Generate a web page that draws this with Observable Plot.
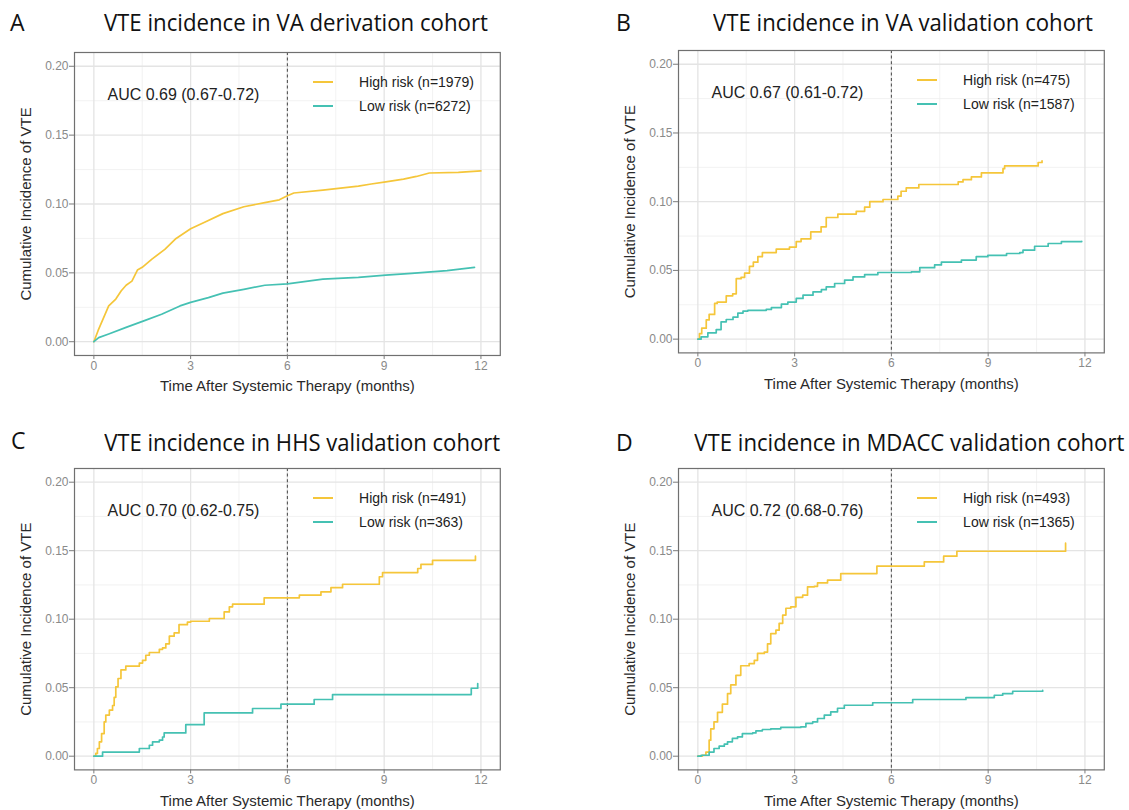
<!DOCTYPE html>
<html>
<head>
<meta charset="utf-8">
<script src="https://cdn.jsdelivr.net/npm/d3@7"></script>
<script src="https://cdn.jsdelivr.net/npm/@observablehq/plot@0.6"></script>
<style>
  html, body { margin: 0; padding: 0; background: #fff; }
  body { width: 1129px; height: 810px; position: relative; overflow: hidden; font-family: "Liberation Sans", Arial, sans-serif; }
  .panel { position: absolute; }
  .panel svg { display: block; overflow: visible; }
  .title, .letter { position: absolute; font-family: "Open Sans", "Noto Sans", sans-serif; font-size: 23px; color: #111; white-space: nowrap; line-height: 1; }
  .legend-row { position: absolute; display: flex; align-items: center; font-size: 14px; color: #222; white-space: nowrap; line-height: 1; }
  .swatch { position: absolute; height: 0; border-top: 2px solid; }
</style>
</head>
<body>
<script>
// ---------- data ----------
const panelLetters = ["A", "B", "C", "D"];
const panelTitles = [
  "VTE incidence in VA derivation cohort",
  "VTE incidence in VA validation cohort",
  "VTE incidence in HHS validation cohort",
  "VTE incidence in MDACC validation cohort"
];
const aucLabels = ["AUC 0.69 (0.67-0.72)", "AUC 0.67 (0.61-0.72)", "AUC 0.70 (0.62-0.75)", "AUC 0.72 (0.68-0.76)"];
const highLabels = ["High risk (n=1979)", "High risk (n=475)", "High risk (n=491)", "High risk (n=493)"];
const lowLabels = ["Low risk (n=6272)", "Low risk (n=1587)", "Low risk (n=363)", "Low risk (n=1365)"];
const seriesNames = ["High", "Low"];
const xTicks = [0, 3, 6, 9, 12];
const xMinor = [1.5, 4.5, 7.5, 10.5];
const yTicks = [0, 0.05, 0.10, 0.15, 0.20];
const yMinor = [0.025, 0.075, 0.125, 0.175];
const refMonth = [6];
const xLabel = "Time After Systemic Therapy (months)";
const yLabel = "Cumulative Incidence of VTE";

// Panel A (VA derivation)
const aHighT = [0, 0.13, 0.35, 0.46, 0.68, 0.85, 1.0, 1.18, 1.35, 1.5, 1.8, 2.2, 2.55, 3.0, 3.45, 4.0, 4.65, 5.3, 5.75, 6.0, 6.2, 7.1, 8.2, 8.6, 9.05, 9.6, 10.0, 10.4, 11.3, 12.0];
const aHighV = [0, 0.008, 0.020, 0.026, 0.031, 0.037, 0.041, 0.044, 0.052, 0.054, 0.060, 0.067, 0.075, 0.082, 0.087, 0.093, 0.098, 0.101, 0.103, 0.106, 0.108, 0.110, 0.113, 0.1145, 0.116, 0.118, 0.120, 0.1225, 0.123, 0.124];
const aLowT = [0, 0.15, 0.46, 1.0, 1.57, 2.1, 2.67, 3.0, 3.55, 4.0, 4.65, 5.3, 6.0, 7.1, 8.2, 9.05, 9.85, 10.95, 11.8];
const aLowV = [0, 0.003, 0.0056, 0.0104, 0.0153, 0.020, 0.026, 0.0286, 0.032, 0.0353, 0.038, 0.041, 0.042, 0.0455, 0.0467, 0.0484, 0.0496, 0.0516, 0.054];

// Panel B (VA validation)
const bHighT = [0, 0.05, 0.12, 0.26, 0.35, 0.52, 0.6, 0.88, 1.08, 1.19, 1.34, 1.45, 1.6, 1.72, 1.86, 2.0, 2.43, 2.84, 3.05, 3.2, 3.5, 3.82, 3.98, 4.34, 4.91, 5.17, 5.33, 5.74, 6.2, 6.3, 6.46, 6.85, 8.07, 8.22, 8.48, 8.79, 9.46, 9.51, 10.55, 10.67];
const bHighV = [0, 0.004, 0.008, 0.014, 0.018, 0.026, 0.027, 0.0315, 0.033, 0.044, 0.045, 0.048, 0.053, 0.056, 0.060, 0.063, 0.0655, 0.067, 0.071, 0.073, 0.078, 0.0817, 0.0885, 0.091, 0.093, 0.096, 0.100, 0.1016, 0.104, 0.1076, 0.110, 0.1125, 0.1144, 0.116, 0.118, 0.121, 0.124, 0.126, 0.1285, 0.1297];
const bLowT = [0, 0.1, 0.31, 0.57, 0.72, 0.88, 1.09, 1.24, 1.4, 1.55, 2.12, 2.28, 2.59, 2.79, 3.05, 3.26, 3.57, 3.83, 3.98, 4.24, 4.55, 4.81, 5.17, 5.58, 6.62, 6.88, 7.34, 7.55, 8.17, 8.63, 8.99, 9.57, 9.98, 10.08, 10.44, 10.86, 11.27, 11.9];
const bLowV = [0, 0.0017, 0.0046, 0.007, 0.0126, 0.0143, 0.016, 0.019, 0.0204, 0.021, 0.0216, 0.023, 0.0255, 0.027, 0.0296, 0.032, 0.0344, 0.036, 0.038, 0.0405, 0.043, 0.0453, 0.047, 0.0485, 0.049, 0.052, 0.054, 0.056, 0.0575, 0.060, 0.061, 0.0623, 0.063, 0.0647, 0.0676, 0.0696, 0.071, 0.0712];

// Panel C (HHS validation)
const cHighT = [0, 0.06, 0.11, 0.17, 0.24, 0.32, 0.37, 0.48, 0.58, 0.63, 0.68, 0.75, 0.84, 0.99, 1.41, 1.51, 1.61, 1.72, 2.03, 2.13, 2.23, 2.34, 2.49, 2.64, 2.9, 3.0, 3.58, 4.04, 4.2, 4.3, 5.28, 6.37, 7.04, 7.35, 7.71, 8.85, 8.95, 10.04, 10.14, 10.5, 11.8, 11.83];
const cHighV = [0, 0.002, 0.0056, 0.0105, 0.0165, 0.025, 0.030, 0.0336, 0.037, 0.043, 0.0506, 0.0567, 0.063, 0.0657, 0.068, 0.070, 0.0737, 0.0757, 0.078, 0.079, 0.082, 0.0876, 0.090, 0.096, 0.0978, 0.0985, 0.1005, 0.1053, 0.109, 0.111, 0.1156, 0.1175, 0.120, 0.123, 0.1255, 0.131, 0.134, 0.137, 0.140, 0.143, 0.143, 0.146];
const cLowT = [0, 0.27, 1.41, 1.72, 1.82, 2.03, 2.13, 2.18, 2.85, 3.42, 4.92, 5.8, 6.83, 7.4, 11.7, 11.9];
const cLowV = [0, 0.003, 0.0056, 0.008, 0.0105, 0.0117, 0.014, 0.017, 0.023, 0.0316, 0.0348, 0.038, 0.0414, 0.045, 0.0496, 0.053];

// Panel D (MDACC validation)
const dHighT = [0, 0.14, 0.25, 0.35, 0.4, 0.5, 0.61, 0.76, 0.92, 1.02, 1.18, 1.33, 1.59, 1.75, 1.85, 2.06, 2.16, 2.26, 2.42, 2.52, 2.63, 2.73, 2.88, 3.04, 3.25, 3.4, 3.61, 3.71, 4.02, 4.43, 5.55, 7.02, 7.62, 8.03, 11.38, 11.4];
const dHighV = [0, 0.0007, 0.003, 0.0117, 0.020, 0.025, 0.032, 0.038, 0.0457, 0.052, 0.059, 0.066, 0.0676, 0.070, 0.075, 0.076, 0.082, 0.0895, 0.092, 0.097, 0.103, 0.108, 0.109, 0.116, 0.1175, 0.1236, 0.124, 0.1265, 0.1285, 0.1333, 0.1387, 0.1418, 0.146, 0.1496, 0.1496, 0.1555];
const dLowT = [0, 0.1, 0.35, 0.5, 0.66, 0.82, 0.92, 1.07, 1.23, 1.38, 1.7, 1.8, 2.0, 2.26, 2.57, 3.19, 3.35, 3.56, 3.71, 3.92, 4.12, 4.33, 4.54, 5.42, 6.66, 8.31, 9.19, 9.45, 9.76, 10.69];
const dLowV = [0, 0.0007, 0.003, 0.0056, 0.0073, 0.0088, 0.0105, 0.013, 0.0141, 0.0165, 0.017, 0.0185, 0.0195, 0.020, 0.021, 0.0214, 0.024, 0.025, 0.0275, 0.030, 0.0324, 0.035, 0.0372, 0.039, 0.0414, 0.0428, 0.0445, 0.0457, 0.0474, 0.048];

// ---------- layout / style ----------
const colors = ["#F5C63A", "#45C1B3"];
const panels = [
  {highT: aHighT, highV: aHighV, lowT: aLowT, lowV: aLowV, curve: "linear",
   frame: {left: 73.6, right: 499.4, top: 52, bottom: 355}, title: {cx: 296, cy: 22, w: 384}, letter: {x: 10, cy: 22}},
  {highT: bHighT, highV: bHighV, lowT: bLowT, lowV: bLowV, curve: "step-after",
   frame: {left: 677.6, right: 1103.4, top: 50.3, bottom: 352.7}, title: {cx: 903, cy: 22, w: 380}, letter: {x: 616, cy: 22}},
  {highT: cHighT, highV: cHighV, lowT: cLowT, lowV: cLowV, curve: "step-after",
   frame: {left: 73.6, right: 499.4, top: 468.3, bottom: 769.7}, title: {cx: 302, cy: 442, w: 396}, letter: {x: 11, cy: 440}},
  {highT: dHighT, highV: dHighV, lowT: dLowT, lowV: dLowV, curve: "step-after",
   frame: {left: 677.6, right: 1103.4, top: 468.3, bottom: 769.7}, title: {cx: 909, cy: 442, w: 430}, letter: {x: 616, cy: 442}}
];

const ML = 74, MR = 20, MT = 14, MB = 45;

panels.forEach((p, i) => {
  const rows = [
    ...p.highT.map((t, k) => ({t, v: p.highV[k], g: seriesNames[0]})),
    ...p.lowT.map((t, k) => ({t, v: p.lowV[k], g: seriesNames[1]}))
  ];
  const fw = p.frame.right - p.frame.left, fh = p.frame.bottom - p.frame.top;
  const chart = Plot.plot({
    width: ML + fw + MR,
    height: MT + fh + MB,
    marginLeft: ML, marginRight: MR, marginTop: MT, marginBottom: MB,
    x: {domain: [-0.6, 12.6]},
    y: {domain: [-0.01, 0.21]},
    color: {domain: seriesNames, range: colors},
    style: {fontFamily: "'Liberation Sans', Arial, sans-serif", fontSize: "12px", background: "transparent", overflow: "visible"},
    marks: [
      Plot.gridX(xMinor, {stroke: "#ececec", strokeOpacity: 1, strokeWidth: 0.7}),
      Plot.gridY(yMinor, {stroke: "#ececec", strokeOpacity: 1, strokeWidth: 0.7}),
      Plot.gridX(xTicks, {stroke: "#e4e4e4", strokeOpacity: 1, strokeWidth: 1.3}),
      Plot.gridY(yTicks, {stroke: "#e4e4e4", strokeOpacity: 1, strokeWidth: 1.3}),
      Plot.ruleX(refMonth, {stroke: "#555", strokeWidth: 1.1, strokeDasharray: "3,2.6"}),
      Plot.line(rows, {x: "t", y: "v", z: "g", stroke: "g", curve: p.curve, strokeWidth: 1.7}),
      Plot.frame({stroke: "#707070", strokeWidth: 1.2}),
      Plot.axisX(xTicks, {tickFormat: d => String(d), tickSize: 4, tickPadding: 2, stroke: "#7a7a7a", fill: "#8a8a8a", fontSize: 12, label: null}),
      Plot.axisY(yTicks, {tickFormat: d3.format(".2f"), tickSize: 5, tickPadding: 1, stroke: "#7a7a7a", fill: "#8a8a8a", fontSize: 12, label: null}),
      Plot.text([xLabel], {text: d => d, frameAnchor: "bottom", dy: 31, textAnchor: "middle", lineAnchor: "middle", fontSize: 15, fill: "#2a2a2a"}),
      Plot.text([yLabel], {text: d => d, frameAnchor: "left", dx: -48, rotate: -90, textAnchor: "middle", lineAnchor: "middle", fontSize: 15, fill: "#2a2a2a"}),
      Plot.text([aucLabels[i]], {text: d => d, frameAnchor: "top-left", dx: 33, dy: 42, textAnchor: "start", lineAnchor: "middle", fontSize: 16, fill: "#222"})
    ]
  });
  const div = document.createElement("div");
  div.className = "panel";
  div.style.left = (p.frame.left - ML) + "px";
  div.style.top = (p.frame.top - MT) + "px";
  div.appendChild(chart);
  document.body.appendChild(div);

  // legend (inside the panel, top-right)
  [[highLabels[i], colors[0], 30], [lowLabels[i], colors[1], 54]].forEach(([label, c, off]) => {
    const sw = document.createElement("div");
    sw.className = "swatch";
    sw.style.borderTopColor = c;
    sw.style.left = (p.frame.left + 239.5) + "px";
    sw.style.width = "20px";
    sw.style.top = (p.frame.top + off - 1) + "px";
    document.body.appendChild(sw);
    const lt = document.createElement("div");
    lt.className = "legend-row";
    lt.textContent = label;
    lt.style.left = (p.frame.left + 285.5) + "px";
    lt.style.top = (p.frame.top + off - 8) + "px";
    lt.style.height = "16px";
    document.body.appendChild(lt);
  });

  // title and panel letter
  const t = document.createElement("div");
  t.className = "title";
  t.textContent = panelTitles[i];
  document.body.appendChild(t);
  const w = t.getBoundingClientRect().width;
  const h = t.getBoundingClientRect().height;
  const s = p.title.w / w;
  t.style.left = (p.title.cx - w / 2) + "px";
  t.style.top = (p.title.cy - h / 2) + "px";
  t.style.transformOrigin = "50% 50%";
  t.style.transform = `scaleX(${s})`;

  const L = document.createElement("div");
  L.className = "letter";
  L.textContent = panelLetters[i];
  document.body.appendChild(L);
  const lh = L.getBoundingClientRect().height;
  L.style.left = p.letter.x + "px";
  L.style.top = (p.letter.cy - lh / 2) + "px";
});
</script>
</body>
</html>
